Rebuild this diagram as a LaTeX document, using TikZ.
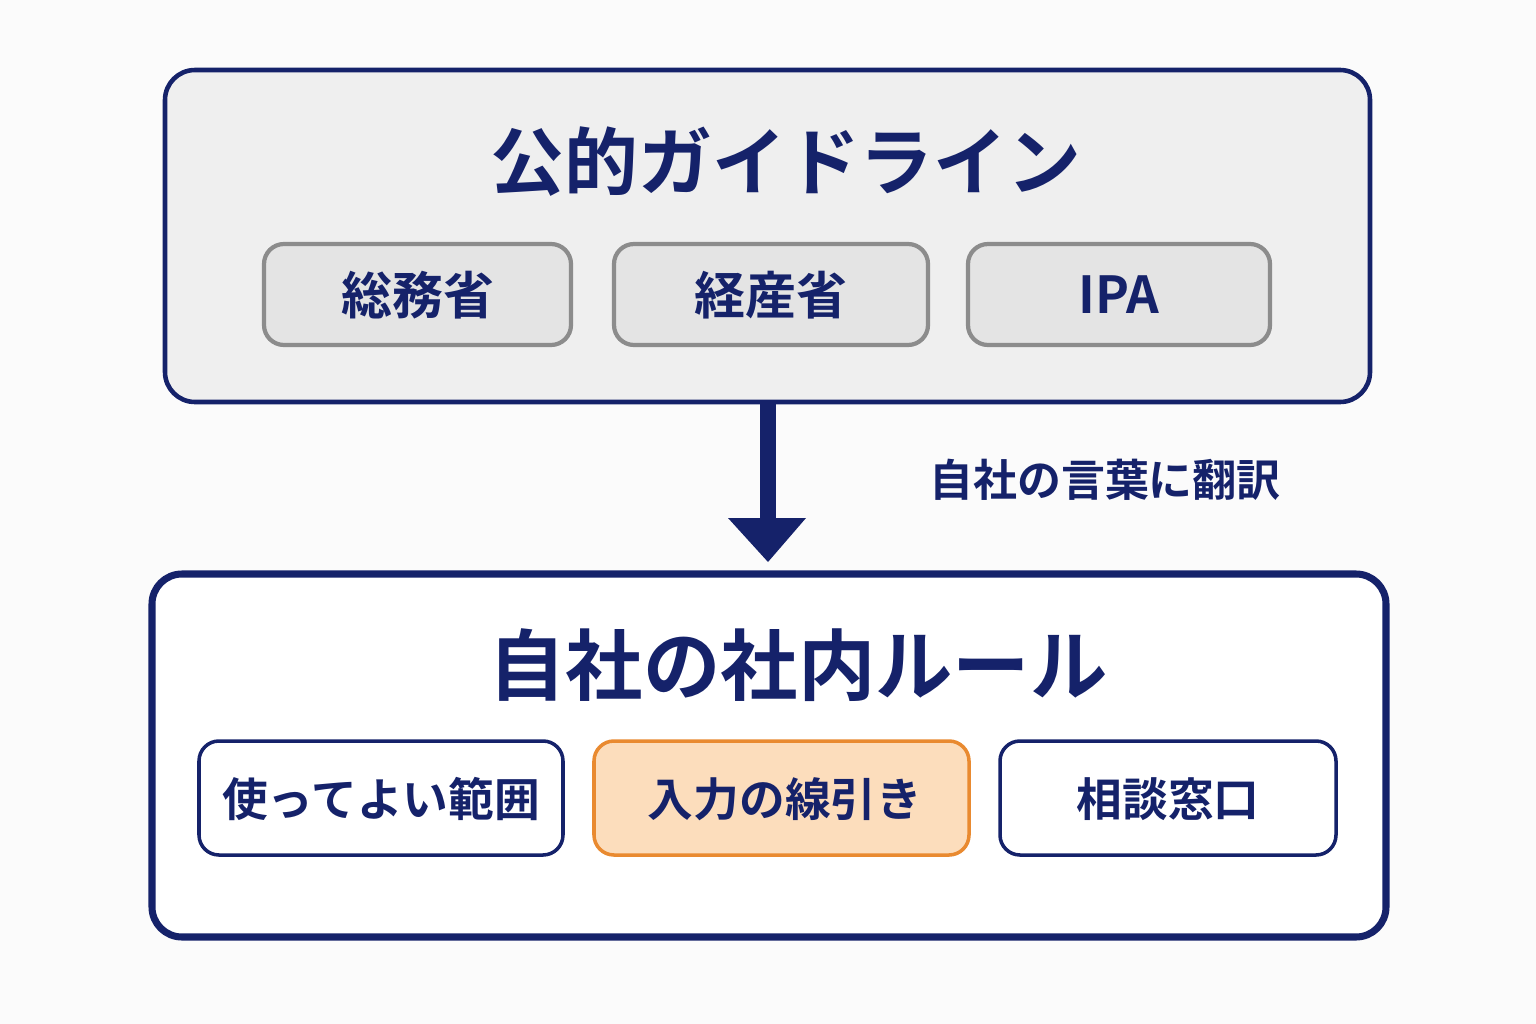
\documentclass[tikz,border=0pt]{standalone}
\usepackage{fontspec}
\setmainfont{Noto Sans CJK JP}[BoldFont={* Bold}]
\definecolor{navy}{HTML}{15226A}
\definecolor{panel}{HTML}{EFEFEF}
\definecolor{chip}{HTML}{E4E4E4}
\definecolor{chipb}{HTML}{8C8C8C}
\definecolor{orf}{HTML}{FCDDBC}
\definecolor{orb}{HTML}{E98A30}
\begin{document}
\begin{tikzpicture}[x=0.01cm,y=-0.01cm,
  big/.style={draw=navy,rounded corners=30*0.01cm},
  chipS/.style={draw=chipb,fill=chip,line width=1.2pt,rounded corners=20*0.01cm},
  whiteS/.style={draw=navy,fill=white,line width=1pt,rounded corners=20*0.01cm},
  txt/.style={text=navy,font=\bfseries}]
\fill[white!97!gray] (0,0) rectangle (1536,1024);
\useasboundingbox (0,0) rectangle (1536,1024);
\draw[big,fill=panel,line width=1.3pt] (165,70) rectangle (1370,402);
\node[txt,font=\bfseries\fontsize{21}{24}\selectfont] (t1) at (786,162) {公的ガイドライン};
\draw[chipS] (264,244) rectangle (571,345);
\node[txt,font=\bfseries\fontsize{14.5}{17}\selectfont] (a1) at (418,295) {総務省};
\draw[chipS] (614,244) rectangle (928,345);
\node[txt,font=\bfseries\fontsize{14.5}{17}\selectfont] (a2) at (771,295) {経産省};
\draw[chipS] (968,244) rectangle (1270,345);
\node[txt,font=\bfseries\fontsize{14.5}{17}\selectfont] (a3) at (1119,295) {IPA};
\coordinate (s) at (768,402);
\coordinate (e) at (768,562);
\fill[navy] (760,402) rectangle (776,520);
\fill[navy] (728,518) -- (806,518) -- (e) -- cycle;
\node[txt,font=\bfseries\fontsize{12.5}{15}\selectfont] (lab) at (1105,480) {自社の言葉に翻訳};
\draw[big,fill=white,line width=2pt] (152,574) rectangle (1386,937);
\node[txt,font=\bfseries\fontsize{22}{25}\selectfont] (t2) at (798,665) {自社の社内ルール};
\draw[whiteS] (199,741) rectangle (563,855);
\node[txt,font=\bfseries\fontsize{13}{16}\selectfont] (b1) at (381,799) {使ってよい範囲};
\draw[whiteS,draw=orb,fill=orf] (594,741) rectangle (969,855);
\node[txt,font=\bfseries\fontsize{13}{16}\selectfont] (b2) at (785,799) {入力の線引き};
\draw[whiteS] (1000,741) rectangle (1336,855);
\node[txt,font=\bfseries\fontsize{13}{16}\selectfont] (b3) at (1168,799) {相談窓口};
\end{tikzpicture}
\end{document}
